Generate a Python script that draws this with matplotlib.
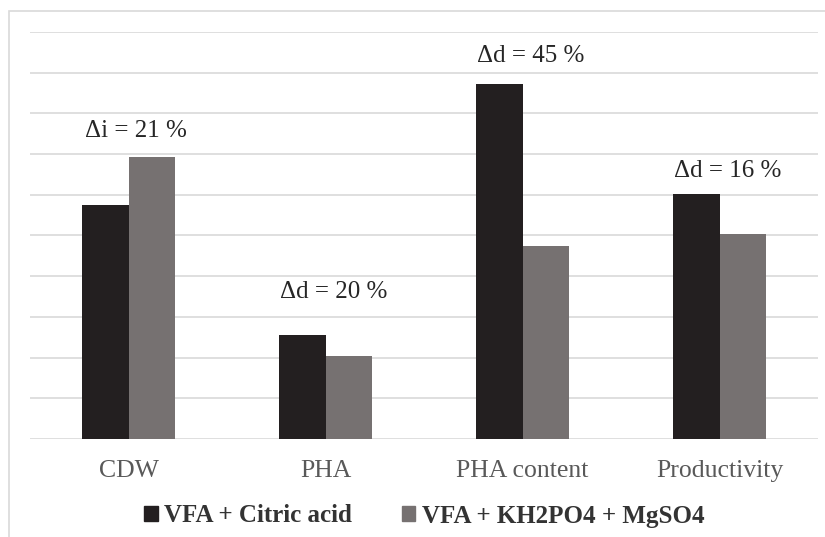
import numpy as np
import matplotlib.pyplot as plt
from matplotlib.patches import Patch, Rectangle

# Datos de las barras (unidades relativas)
categorias = ['CDW', 'PHA', 'PHA content', 'Productivity']
citrico = [5.75, 2.55, 8.72, 6.01]
kh2po4_mgso4 = [6.92, 2.05, 4.75, 5.03]
series = ['VFA + Citric acid', 'VFA + KH2PO4 + MgSO4']
etiquetas = ['\u0394i = 21 %', '\u0394d = 20 %', '\u0394d = 45 %', '\u0394d = 16 %']

# Desplazamiento vertical (puntos) de cada etiqueta sobre la barra más alta
desplaz = [14.5, 27, 15.8, 12.5]

c_oscuro = '#231f20'
c_gris = '#767171'
c_rejilla = '#d9d9d9'

plt.rcParams['font.family'] = ['Liberation Serif', 'DejaVu Serif']

fig = plt.figure(figsize=(8.25, 5.37), dpi=100)
W, H = 825, 537
ax = fig.add_axes([30 / W, (H - 439) / H, 788 / W, 407 / H])

# Marco exterior del gráfico
fig.patches.append(Rectangle((9 / W, -0.1), 1.2, (H - 11) / H + 0.1,
                             transform=fig.transFigure, fill=False,
                             edgecolor=c_rejilla, linewidth=1.2))

x = np.arange(len(categorias))
ancho = 0.238
ax.bar(x - ancho / 2, citrico, ancho, color=c_oscuro, zorder=3)
ax.bar(x + ancho / 2, kh2po4_mgso4, ancho, color=c_gris, zorder=3)

# Líneas de rejilla horizontales
for yv in range(0, 11):
    ax.axhline(yv, color=c_rejilla, linewidth=1.2, zorder=1)

# Etiquetas de diferencia porcentual
for i, txt in enumerate(etiquetas):
    ymax = max(citrico[i], kh2po4_mgso4[i])
    ax.annotate(txt, (x[i] + 0.04, ymax), xytext=(0, desplaz[i]),
                textcoords='offset points', ha='center', va='baseline',
                fontsize=18, color='#262626')

ax.set_xlim(-0.5, 3.5)
ax.set_ylim(0, 10)
ax.set_xticks(x)
ax.set_xticklabels(categorias, fontsize=18.5, color='#595959')
ax.tick_params(axis='x', length=0, pad=15)
ax.set_yticks([])
for s in ax.spines.values():
    s.set_visible(False)

handles = [Patch(color=c_oscuro), Patch(color=c_gris)]
fig.legend(handles, series, loc='center', bbox_to_anchor=(424 / W, (H - 516) / H),
           ncol=2, frameon=False, handlelength=0.55, handleheight=0.55,
           handletextpad=0.25, columnspacing=2.0,
           prop={'family': 'Liberation Serif', 'weight': 'bold', 'size': 18},
           labelcolor='#333333')

plt.savefig('out.png', dpi=100)
